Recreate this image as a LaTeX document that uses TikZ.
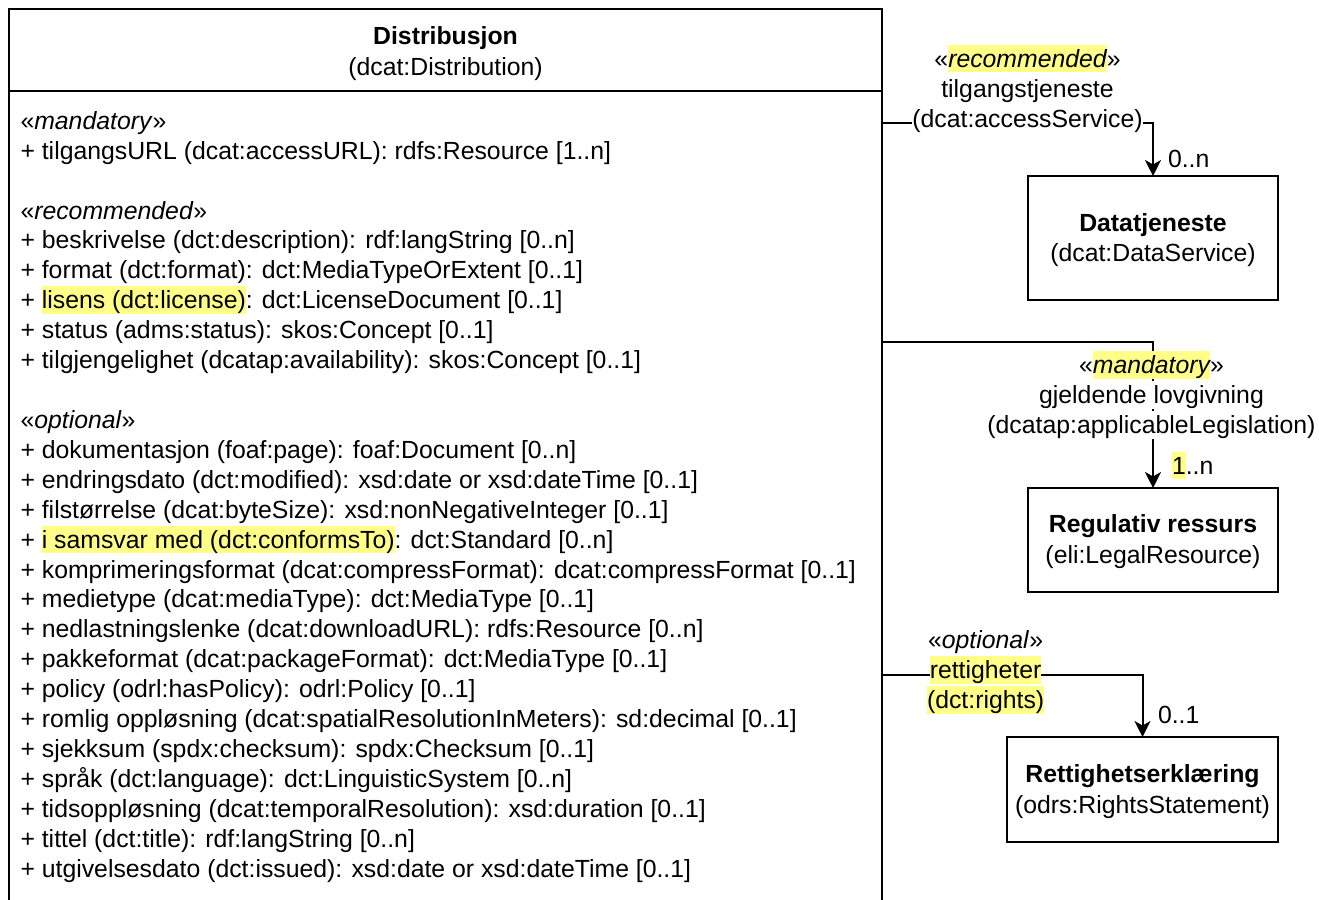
\documentclass[tikz,border=0pt]{standalone}
\usepackage{fontspec}
\setmainfont{Liberation Sans}
\usetikzlibrary{arrows.meta}
\definecolor{hly}{RGB}{255,255,136}
\newcommand{\ms}{\rule[-5.3pt]{0pt}{27.7pt}}
\newcommand{\hlt}[1]{{\setlength{\fboxsep}{0pt}\colorbox{hly}{\ms#1}}}
\newcommand{\stt}[1]{«\textit{#1}»}
\begin{document}
\begin{tikzpicture}[x=1pt,y=-1pt,
  every node/.style={font=\fontsize{24.8}{30}\selectfont, inner sep=0pt, outer sep=0pt, text=black},
  attr/.style={anchor=base west},
  lbl/.style={anchor=base, fill=white},
  ctext/.style={anchor=base},
  cls/.style={draw, line width=2pt},
  edge/.style={line width=2pt, -{Stealth[length=16pt,width=16pt,inset=4.5pt]}}]
\useasboundingbox (0,0) rectangle (1319,899);
\fill[white] (0,0) rectangle (1319,899);
\begin{scope}
\clip (0,0) rectangle (1319,899);
\node[draw, line width=2pt, anchor=north west, minimum width=873pt, minimum height=960pt] (dist) at (9,9) {};
\end{scope}
\draw[line width=2pt] (9,91) -- (882,91);
\node[ctext] (t1) at (445.5,44.5) {\bfseries Distribusjon};
\node[ctext] (t2) at (445.5,75.5) {(dcat:Distribution)};
% attributes
\begin{scope}[yshift=-1.2pt]
\node[attr] (a0) at (20.5,128.0) {\stt{mandatory}};
\node[attr] (a1) at (20.5,157.9) {+ tilgangsURL (dcat:accessURL): rdfs:Resource [1..n]};
\node[attr] (a3) at (20.5,217.8) {\stt{recommended}};
\node[attr] (a4) at (20.5,247.7) {+ beskrivelse (dct:description): rdf:langString [0..n]};
\node[attr] (a5) at (20.5,277.6) {+ format (dct:format): dct:MediaTypeOrExtent [0..1]};
\node[attr] (a6) at (20.5,307.5) {+ \hlt{lisens (dct:license)}: dct:LicenseDocument [0..1]};
\node[attr] (a7) at (20.5,337.4) {+ status (adms:status): skos:Concept [0..1]};
\node[attr] (a8) at (20.5,367.4) {+ tilgjengelighet (dcatap:availability): skos:Concept [0..1]};
\node[attr] (a10) at (20.5,427.2) {\stt{optional}};
\node[attr] (a11) at (20.5,457.1) {+ dokumentasjon (foaf:page): foaf:Document [0..n]};
\node[attr] (a12) at (20.5,487.0) {+ endringsdato (dct:modified): xsd:date or xsd:dateTime [0..1]};
\node[attr] (a13) at (20.5,516.9) {+ filstørrelse (dcat:byteSize): xsd:nonNegativeInteger [0..1]};
\node[attr] (a14) at (20.5,546.9) {+ \hlt{i samsvar med (dct:conformsTo)}: dct:Standard [0..n]};
\node[attr] (a15) at (20.5,576.8) {+ komprimeringsformat (dcat:compressFormat): dcat:compressFormat [0..1]};
\node[attr] (a16) at (20.5,606.7) {+ medietype (dcat:mediaType): dct:MediaType [0..1]};
\node[attr] (a17) at (20.5,636.6) {+ nedlastningslenke (dcat:downloadURL): rdfs:Resource [0..n]};
\node[attr] (a18) at (20.5,666.6) {+ pakkeformat (dcat:packageFormat): dct:MediaType [0..1]};
\node[attr] (a19) at (20.5,696.5) {+ policy (odrl:hasPolicy): odrl:Policy [0..1]};
\node[attr] (a20) at (20.5,726.4) {+ romlig oppløsning (dcat:spatialResolutionInMeters): sd:decimal [0..1]};
\node[attr] (a21) at (20.5,756.3) {+ sjekksum (spdx:checksum): spdx:Checksum [0..1]};
\node[attr] (a22) at (20.5,786.2) {+ språk (dct:language): dct:LinguisticSystem [0..n]};
\node[attr] (a23) at (20.5,816.2) {+ tidsoppløsning (dcat:temporalResolution): xsd:duration [0..1]};
\node[attr] (a24) at (20.5,846.1) {+ tittel (dct:title): rdf:langString [0..n]};
\node[attr] (a25) at (20.5,876.0) {+ utgivelsesdato (dct:issued): xsd:date or xsd:dateTime [0..1]};
\end{scope}
% target classes
\node[cls, minimum width=250pt, minimum height=124pt] (dsv) at (1153,238) {};
\node[ctext] (dsvT) at (1153,231) {\bfseries Datatjeneste};
\node[ctext] (dsvS) at (1153,261.5) {(dcat:DataService)};
\node[cls, minimum width=250pt, minimum height=104pt] (reg) at (1153,540) {};
\node[ctext] (regT) at (1153,532.5) {\bfseries Regulativ ressurs};
\node[ctext] (regS) at (1153,563) {(eli:LegalResource)};
\node[cls, minimum width=271pt, minimum height=105pt] (ret) at (1142.5,789.5) {};
\node[ctext] (retT) at (1142.5,782) {\bfseries Rettighetserklæring};
\node[ctext] (retS) at (1142.5,813) {(odrs:RightsStatement)};
% edges
\coordinate (e1) at (882,123);
\coordinate (e2) at (882,342);
\coordinate (e3) at (882,675);
\draw[edge] (e1) -| (dsv.north);
\draw[edge] (e2) -| (reg.north);
\draw[edge] (e3) -| (ret.north);
% edge labels
\node[lbl] (l1a) at (1027.5,67) {\ms«\hlt{\itshape recommended}»};
\node[lbl] (l1b) at (1027.5,97) {\ms tilgangstjeneste};
\node[lbl] (l1c) at (1027.5,127) {\ms(dcat:accessService)};
\node[lbl] (l2a) at (1151.5,373.5) {\ms«\hlt{\itshape mandatory}»};
\node[lbl] (l2b) at (1151.5,403.5) {\ms gjeldende lovgivning};
\node[lbl] (l2c) at (1151.5,433.5) {\ms(dcatap:applicableLegislation)};
\node[lbl] (l3a) at (985.6,648.5) {\ms\stt{optional}};
\node[lbl] (l3b) at (985.6,678.5) {\hlt{rettigheter}};
\node[lbl] (l3c) at (985.6,708.5) {\hlt{(dct:rights)}};
% multiplicities
\node[anchor=base west] (m1) at (1168,167) {0..n};
\node[anchor=base west] (m2) at (1172,474) {\hlt{1}..n};
\node[anchor=base west] (m3) at (1158,723) {0..1};
\end{tikzpicture}
\end{document}
